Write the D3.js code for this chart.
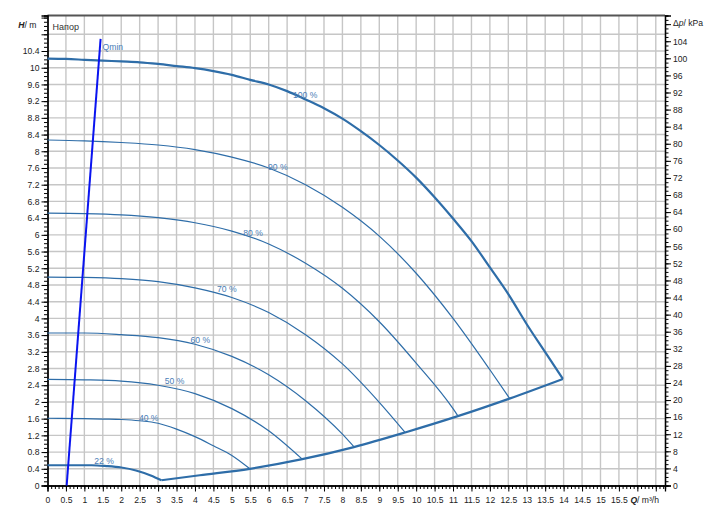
<!DOCTYPE html>
<html>
<head>
<meta charset="utf-8">
<script src="https://cdn.jsdelivr.net/npm/d3@7"></script>
<style>
  body { margin: 0; background: #fff; }
  svg { display: block; font-family: "Liberation Sans", Arial, sans-serif; }
  .axis path, .axis line { stroke: #000; }
  .axis text { font-size: 8.6px; fill: #222; }
</style>
</head>
<body>
<div id="chart"></div>
<script>
// curves: Q in m3/h, H in m
var q100 = [0, 0.5, 1, 1.5, 2, 2.5, 3, 3.5, 4, 4.5, 5, 5.5, 6, 6.5, 7, 7.5, 8, 8.5, 9, 9.5, 10, 10.5, 11, 11.5, 12, 12.5, 13, 13.5, 13.98];
var h100 = [10.22, 10.21, 10.19, 10.17, 10.15, 10.13, 10.09, 10.04, 9.99, 9.92, 9.83, 9.71, 9.60, 9.44, 9.24, 9.03, 8.78, 8.48, 8.15, 7.78, 7.37, 6.90, 6.39, 5.85, 5.22, 4.58, 3.86, 3.19, 2.55];
var q90 = [0, 1, 2, 3, 4, 5, 6, 7, 8, 9, 10, 11, 12, 12.53];
var h90 = [8.27, 8.25, 8.21, 8.15, 8.04, 7.86, 7.60, 7.20, 6.66, 5.97, 5.08, 4.00, 2.77, 2.09];
var q80 = [0, 1, 2, 3, 4, 5, 6, 7, 8, 9, 10, 11, 11.13];
var h80 = [6.52, 6.51, 6.48, 6.41, 6.29, 6.09, 5.78, 5.32, 4.72, 3.92, 2.93, 1.84, 1.67];
var q70 = [0, 1, 2, 3, 4, 5, 6, 7, 8, 9, 9.7];
var h70 = [4.99, 4.98, 4.95, 4.88, 4.73, 4.50, 4.14, 3.61, 2.91, 1.99, 1.27];
var q60 = [0, 1, 2, 3, 4, 5, 6, 7, 8, 8.31];
var h60 = [3.65, 3.65, 3.61, 3.54, 3.38, 3.09, 2.65, 2.03, 1.23, 0.93];
var q50 = [0, 1, 2, 3, 4, 5, 6, 6.91];
var h50 = [2.54, 2.53, 2.50, 2.40, 2.20, 1.84, 1.31, 0.63];
var q40 = [0, 1, 1.5, 2, 2.5, 3, 3.5, 4, 4.5, 5, 5.49];
var h40 = [1.61, 1.60, 1.59, 1.58, 1.55, 1.49, 1.35, 1.17, 0.95, 0.72, 0.40];
var q22 = [0, 1.2, 1.6, 2, 2.4, 2.8, 3.09];
var h22 = [0.485, 0.485, 0.465, 0.43, 0.36, 0.24, 0.125];
// lower boundary (min speed end points)
var qEdge = [3.09, 4.13, 5.49, 6.91, 8.31, 9.7, 11.13, 12.53, 13.98];
var hEdge = [0.125, 0.245, 0.40, 0.63, 0.92, 1.27, 1.66, 2.08, 2.55];
// Qmin line
var qMin = [0.52, 1.44];
var hMin = [0, 10.69];

var curveNames = ["100 %", "90 %", "80 %", "70 %", "60 %", "50 %", "40 %", "22 %"];
var labelQ = [6.66, 5.98, 5.31, 4.6, 3.88, 3.18, 2.48, 1.27];
var labelH = [9.28, 7.56, 5.98, 4.62, 3.42, 2.42, 1.555, 0.52];

var qTicks = d3.range(0, 32).map(function(i) { return i * 0.5; });   // 0 .. 15.5
var hTicks = d3.range(0, 27).map(function(i) { return i * 0.4; });   // 0 .. 10.4
var pTicks = d3.range(0, 27).map(function(i) { return i * 4; });     // 0 .. 104

var kPaPerM = 9.78;

var margin = {top: 15.5, right: 59, bottom: 35.5, left: 47.5},
    width = 724 - margin.left - margin.right,
    height = 521 - margin.top - margin.bottom;

var svg = d3.select("#chart").append("svg")
    .attr("width", 724)
    .attr("height", 521)
  .append("g")
    .attr("transform", "translate(" + margin.left + "," + margin.top + ")");

var x = d3.scaleLinear().domain([0, 16.75]).range([0, width]);
var y = d3.scaleLinear().domain([0, 11.25]).range([height, 0]);
var yp = d3.scaleLinear().domain([0, 11.25 * kPaPerM]).range([height, 0]);

// grid
svg.append("g")
    .selectAll("line.v")
    .data(d3.range(1, 34).map(function(i) { return i * 0.5; }))
  .enter().append("line")
    .attr("x1", function(d) { return x(d); })
    .attr("x2", function(d) { return x(d); })
    .attr("y1", 0).attr("y2", height)
    .attr("stroke", "#c6c6c6").attr("stroke-width", 1.4);

svg.append("g")
    .selectAll("line.h")
    .data(d3.range(1, 28).map(function(i) { return i * 0.4; }))
  .enter().append("line")
    .attr("x1", 0).attr("x2", width)
    .attr("y1", function(d) { return y(d); })
    .attr("y2", function(d) { return y(d); })
    .attr("stroke", "#c6c6c6").attr("stroke-width", 1.4);

// top frame
svg.append("line")
    .attr("x1", 0).attr("x2", width).attr("y1", 0).attr("y2", 0)
    .attr("stroke", "#555").attr("stroke-width", 2);

var fmt = d3.format(".1~f");

// minor ticks
svg.append("g")
    .attr("class", "axis")
    .attr("transform", "translate(0," + height + ")")
    .call(d3.axisBottom(x).tickValues(d3.range(0, 168).map(function(i) { return i * 0.1; })).tickSize(3.5).tickFormat(""));
svg.append("g")
    .attr("class", "axis")
    .call(d3.axisLeft(y).tickValues(d3.range(0, 113).map(function(i) { return i * 0.1; })).tickSize(3.5).tickFormat(""));
svg.append("g")
    .attr("class", "axis")
    .attr("transform", "translate(" + width + ",0)")
    .call(d3.axisRight(yp).tickValues(d3.range(0, 110)).tickSize(3.5).tickFormat(""));

// major ticks
svg.append("g")
    .attr("class", "axis")
    .attr("transform", "translate(0," + height + ")")
    .call(d3.axisBottom(x).tickValues(qTicks.concat([16, 16.5])).tickSize(6).tickPadding(5)
      .tickFormat(function(d) { return d > 15.5 ? "" : fmt(d); }));

svg.append("g")
    .attr("class", "axis")
    .call(d3.axisLeft(y).tickValues(hTicks.concat([10.8, 11.2])).tickSize(6).tickPadding(2)
      .tickFormat(function(d) { return d > 10.5 ? "" : fmt(d); }));

svg.append("g")
    .attr("class", "axis")
    .attr("transform", "translate(" + width + ",0)")
    .call(d3.axisRight(yp).tickValues(pTicks.concat([108])).tickSize(6).tickPadding(2)
      .tickFormat(function(d) { return d > 104 ? "" : d; }));

svg.selectAll(".axis path").attr("stroke-width", 1.3);

// axis titles
var hTitle = svg.append("text")
    .attr("x", -11).attr("y", 12.5)
    .attr("text-anchor", "end")
    .style("font-size", "8.6px").attr("fill", "#222");
hTitle.append("tspan").style("font-style", "italic").style("font-weight", "bold").text("H");
hTitle.append("tspan").text("/ m");

var qTitle = svg.append("text")
    .attr("x", x(16.2)).attr("y", height + 17.5)
    .attr("text-anchor", "middle")
    .style("font-size", "8.6px").attr("fill", "#222");
qTitle.append("tspan").style("font-style", "italic").style("font-weight", "bold").text("Q");
qTitle.append("tspan").text("/ m³/h");

var pTitle = svg.append("text")
    .attr("x", width + 8).attr("y", 10.5)
    .style("font-size", "8.6px").attr("fill", "#222");
pTitle.append("tspan").text("Δ");
pTitle.append("tspan").style("font-style", "italic").text("p");
pTitle.append("tspan").text("/ kPa");

svg.append("text")
    .attr("x", 5).attr("y", 14)
    .style("font-size", "9px").attr("fill", "#333")
    .text("Напор");

// curves
var line = d3.line()
    .x(function(d) { return x(d[0]); })
    .y(function(d) { return y(d[1]); })
    .curve(d3.curveMonotoneX);

function pts(qs, hs) { return qs.map(function(q, i) { return [q, hs[i]]; }); }

var curves = [
  {q: q100, h: h100, w: 2.2},
  {q: q90, h: h90, w: 1.2},
  {q: q80, h: h80, w: 1.2},
  {q: q70, h: h70, w: 1.2},
  {q: q60, h: h60, w: 1.2},
  {q: q50, h: h50, w: 1.2},
  {q: q40, h: h40, w: 1.2},
  {q: q22, h: h22, w: 2.2},
  {q: qEdge, h: hEdge, w: 2.2}
];

svg.selectAll(".pump")
    .data(curves)
  .enter().append("path")
    .attr("class", "pump")
    .attr("d", function(d) { return line(pts(d.q, d.h)); })
    .attr("fill", "none")
    .attr("stroke", "#2e6da8")
    .attr("stroke-width", function(d) { return d.w; })
    .attr("stroke-linejoin", "round");

svg.selectAll(".clabel")
    .data(curveNames)
  .enter().append("text")
    .attr("class", "clabel")
    .attr("x", function(d, i) { return x(labelQ[i]); })
    .attr("y", function(d, i) { return y(labelH[i]); })
    .style("font-size", "8.6px")
    .attr("fill", "#4a7db6")
    .text(function(d) { return d; });

// Qmin
svg.append("path")
    .attr("d", d3.line().x(function(d) { return x(d[0]); }).y(function(d) { return y(d[1]); })(pts(qMin, hMin)))
    .attr("stroke", "#0a14f0")
    .attr("stroke-width", 2)
    .attr("fill", "none");

svg.append("text")
    .attr("x", x(qMin[1]) + 2)
    .attr("y", y(hMin[1]) + 11)
    .style("font-size", "8.6px")
    .attr("fill", "#4a7db6")
    .text("Qmin");
</script>
</body>
</html>
